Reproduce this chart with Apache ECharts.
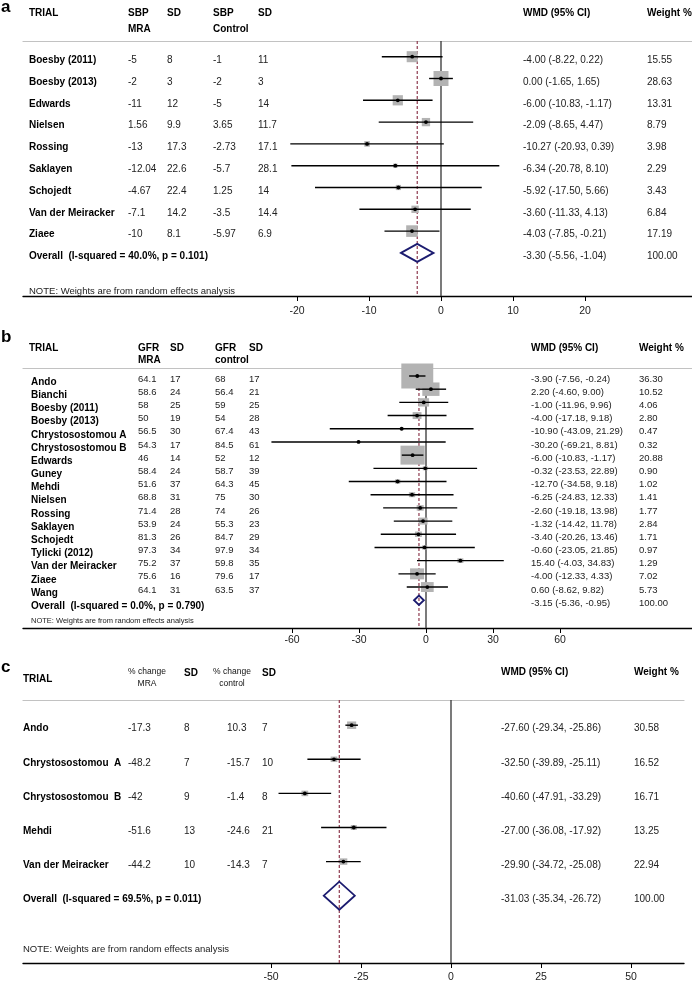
<!DOCTYPE html>
<html><head><meta charset="utf-8">
<script src="https://cdn.jsdelivr.net/npm/echarts@6/dist/echarts.min.js"></script>
<style>html,body{margin:0;padding:0;background:#fff}#chart{width:692px;height:983px}</style>
</head><body><div id="chart"></div>
<script>
// ---------------- Panel a : SBP ----------------
const trialsA = ['Boesby (2011)','Boesby (2013)','Edwards','Nielsen','Rossing','Saklayen','Schojedt','Van der Meiracker','Ziaee'];
const sbpMraA = ['-5','-2','-11','1.56','-13','-12.04','-4.67','-7.1','-10'];
const sdMraA = ['8','3','12','9.9','17.3','22.6','22.4','14.2','8.1'];
const sbpCtrlA = ['-1','-2','-5','3.65','-2.73','-5.7','1.25','-3.5','-5.97'];
const sdCtrlA = ['11','3','14','11.7','17.1','28.1','14','14.4','6.9'];
const wmdA = [-4.00,0.00,-6.00,-2.09,-10.27,-6.34,-5.92,-3.60,-4.03];
const loA = [-8.22,-1.65,-10.83,-8.65,-20.93,-20.78,-17.50,-11.33,-7.85];
const hiA = [0.22,1.65,-1.17,4.47,0.39,8.10,5.66,4.13,-0.21];
const weightA = [15.55,28.63,13.31,8.79,3.98,2.29,3.43,6.84,17.19];
const overallA = [-3.30,-5.56,-1.04];
const hetA = 'Overall  (I-squared = 40.0%, p = 0.101)';
const ticksA = [-20,-10,0,10,20];
const headA = ['SBP\nMRA','SD','SBP\nControl','SD'];

// ---------------- Panel b : GFR ----------------
const trialsB = ['Ando','Bianchi','Boesby (2011)','Boesby (2013)','Chrystosostomou A','Chrystosostomou B','Edwards','Guney','Mehdi','Nielsen','Rossing','Saklayen','Schojedt','Tylicki (2012)','Van der Meiracker','Ziaee','Wang'];
const gfrMraB = ['64.1','58.6','58','50','56.5','54.3','46','58.4','51.6','68.8','71.4','53.9','81.3','97.3','75.2','75.6','64.1'];
const sdMraB = ['17','24','25','19','30','17','14','24','37','31','28','24','26','34','37','16','31'];
const gfrCtrlB = ['68','56.4','59','54','67.4','84.5','52','58.7','64.3','75','74','55.3','84.7','97.9','59.8','79.6','63.5'];
const sdCtrlB = ['17','21','25','28','43','61','12','39','45','30','26','23','29','34','35','17','37'];
const wmdB = [-3.90,2.20,-1.00,-4.00,-10.90,-30.20,-6.00,-0.32,-12.70,-6.25,-2.60,-1.32,-3.40,-0.60,15.40,-4.00,0.60];
const loB = [-7.56,-4.60,-11.96,-17.18,-43.09,-69.21,-10.83,-23.53,-34.58,-24.83,-19.18,-14.42,-20.26,-23.05,-4.03,-12.33,-8.62];
const hiB = [-0.24,9.00,9.96,9.18,21.29,8.81,-1.17,22.89,9.18,12.33,13.98,11.78,13.46,21.85,34.83,4.33,9.82];
const weightB = [36.30,10.52,4.06,2.80,0.47,0.32,20.88,0.90,1.02,1.41,1.77,2.84,1.71,0.97,1.29,7.02,5.73];
const overallB = [-3.15,-5.36,-0.95];
const hetB = 'Overall  (I-squared = 0.0%, p = 0.790)';
const ticksB = [-60,-30,0,30,60];
const headB = ['GFR\nMRA','SD','GFR\ncontrol','SD'];

// ---------------- Panel c : % change ----------------
const trialsC = ['Ando','Chrystosostomou  A','Chrystosostomou  B','Mehdi','Van der Meiracker'];
const pctMraC = ['-17.3','-48.2','-42','-51.6','-44.2'];
const sdMraC = ['8','7','9','13','10'];
const pctCtrlC = ['10.3','-15.7','-1.4','-24.6','-14.3'];
const sdCtrlC = ['7','10','8','21','7'];
const wmdC = [-27.60,-32.50,-40.60,-27.00,-29.90];
const loC = [-29.34,-39.89,-47.91,-36.08,-34.72];
const hiC = [-25.86,-25.11,-33.29,-17.92,-25.08];
const weightC = [30.58,16.52,16.71,13.25,22.94];
const overallC = [-31.03,-35.34,-26.72];
const hetC = 'Overall  (I-squared = 69.5%, p = 0.011)';
const ticksC = [-50,-25,0,25,50];
const headC = ['% change\nMRA','SD','% change\ncontrol','SD'];

const noteText = 'NOTE: Weights are from random effects analysis';

// ---------------- layout (pixels) ----------------
const FONT = '"Liberation Sans", Arial, Helvetica, sans-serif';
const PANELS = [
  {letter:'a', trials:trialsA, cols:[sbpMraA,sdMraA,sbpCtrlA,sdCtrlA], wmd:wmdA, lo:loA, hi:hiA, wt:weightA, overall:overallA, het:hetA, ticks:ticksA, head:headA,
   L:{left:23, top:41, width:669, height:255, zero:441, ppu:7.2, row0:56.7, step:21.8, sqW:2.8, sqH:2.8, dh:9,
      nameX:29, colX:[128,167,213,258], wmdX:523, wtX:647, nameDy:3.5, numDy:3.5, nameFs:10, numFs:10, margin:10,
      letterY:7, headY:13, head2Y:29, hx:[128,167,213,258], headSmall:false, trialY:13, sdY:13, wHeadY:13, trialX:29, noteX:29, noteY:291, noteFs:9.5}},
  {letter:'b', trials:trialsB, cols:[gfrMraB,sdMraB,gfrCtrlB,sdCtrlB], wmd:wmdB, lo:loB, hi:hiB, wt:weightB, overall:overallB, het:hetB, ticks:ticksB, head:headB,
   L:{left:23, top:368, width:669, height:260, zero:426, ppu:67/30, row0:376, step:13.19, sqW:5.3, sqH:4.15, dh:4.7,
      nameX:31, colX:[138,170,215,249], wmdX:531, wtX:639, nameDy:6, numDy:3, nameFs:10, numFs:9.5, margin:7,
      letterY:337, headY:348, head2Y:360, hx:[138,170,215,249], headSmall:false, trialY:348, sdY:348, wHeadY:348, trialX:29, noteX:31, noteY:621, noteFs:7.5}},
  {letter:'c', trials:trialsC, cols:[pctMraC,sdMraC,pctCtrlC,sdCtrlC], wmd:wmdC, lo:loC, hi:hiC, wt:weightC, overall:overallC, het:hetC, ticks:ticksC, head:headC,
   L:{left:23, top:700, width:661, height:263, zero:451, ppu:3.6, row0:725.2, step:34.1, sqW:1.65, sqH:1.35, dh:14,
      nameX:23, colX:[128,184,227,262], wmdX:501, wtX:634, nameDy:3.5, numDy:3.5, nameFs:10, numFs:10, margin:9,
      letterY:667, headY:672, head2Y:684, hx:[128,184,213,262], headSmall:true, trialY:679, sdY:673, wHeadY:672, trialX:23, noteX:23, noteY:949, noteFs:9.5}}
];

const f2 = v => v.toFixed(2);
const ciText = (e,l,h) => f2(e) + ' (' + f2(l) + ', ' + f2(h) + ')';

const grids = [], xAxes = [], yAxes = [], series = [], graphics = [];

function txt(x, y, text, size, bold, color, align) {
  return {type:'text', x:x, y:y, silent:true, style:{text:text, fill:color||'#000', font:(bold?'bold ':'') + size + 'px ' + FONT, align:align||'left', verticalAlign:'middle'}};
}

PANELS.forEach((P, pi) => {
  const L = P.L;
  const n = P.trials.length;
  grids.push({left:L.left, top:L.top, width:L.width, height:L.height});
  const xmin = (L.left - L.zero) / L.ppu, xmax = (L.left + L.width - L.zero) / L.ppu;
  const ymin = (L.top - L.row0) / L.step, ymax = (L.top + L.height - L.row0) / L.step;
  xAxes.push({type:'value', gridIndex:pi, position:'bottom', min:xmin, max:xmax,
    axisLine:{show:true, onZero:false, lineStyle:{color:'#000', width:1.4}},
    axisTick:{show:true, length:5, customValues:P.ticks, lineStyle:{color:'#000', width:1}},
    axisLabel:{show:true, customValues:P.ticks, margin:L.margin, fontSize:10.5, color:'#222', fontFamily:FONT},
    splitLine:{show:false}});
  xAxes.push({type:'value', gridIndex:pi, position:'top', min:xmin, max:xmax,
    axisLine:{show:true, onZero:false, lineStyle:{color:'#c2c2c2', width:1.2}},
    axisTick:{show:false}, axisLabel:{show:false}, splitLine:{show:false}});
  yAxes.push({type:'value', gridIndex:pi, min:ymin, max:ymax, inverse:true, show:false});
  const xi = pi * 2, yi = pi;

  // reference lines: zero and overall estimate
  series.push({type:'custom', coordinateSystem:'cartesian2d', xAxisIndex:xi, yAxisIndex:yi, z:2, silent:true,
    data:[[0, P.overall[0]]],
    renderItem:(params, api) => {
      const cs = params.coordSys;
      const x0 = api.coord([api.value(0), 0])[0];
      const xd = api.coord([api.value(1), 0])[0];
      return {type:'group', children:[
        {type:'line', shape:{x1:x0, y1:cs.y, x2:x0, y2:cs.y + cs.height}, style:{stroke:'#333', lineWidth:1.3}},
        {type:'line', shape:{x1:xd, y1:cs.y, x2:xd, y2:cs.y + cs.height}, style:{stroke:'#8e3a4f', lineWidth:1.2, lineDash:[3,2]}}
      ]};
    }});

  // forest marks
  const fdata = P.trials.map((t, k) => [k, P.wmd[k], P.lo[k], P.hi[k], P.wt[k], 0])
    .concat([[n, P.overall[0], P.overall[1], P.overall[2], 100, 1]]);
  series.push({type:'custom', coordinateSystem:'cartesian2d', xAxisIndex:xi, yAxisIndex:yi, z:3, silent:true,
    data:fdata,
    renderItem:(params, api) => {
      const k = api.value(0);
      const pc = api.coord([api.value(1), k]);
      const pl = api.coord([api.value(2), k]);
      const ph = api.coord([api.value(3), k]);
      if (api.value(5) === 1) {
        return {type:'polygon', shape:{points:[[pl[0], pc[1]], [pc[0], pc[1] - L.dh], [ph[0], pc[1]], [pc[0], pc[1] + L.dh]]},
          style:{fill:'none', stroke:'#1c1c70', lineWidth:1.8}};
      }
      const s = Math.sqrt(api.value(4));
      const w = L.sqW * s, h = L.sqH * s;
      return {type:'group', children:[
        {type:'rect', shape:{x:pc[0] - w/2, y:pc[1] - h/2, width:w, height:h}, style:{fill:'#b3b3b3'}},
        {type:'line', shape:{x1:pl[0], y1:pc[1], x2:ph[0], y2:pc[1]}, style:{stroke:'#000', lineWidth:1.4}},
        {type:'circle', shape:{cx:pc[0], cy:pc[1], r:1.9}, style:{fill:'#000'}}
      ]};
    }});

  // table text rows
  const tdata = P.trials.map((t, k) => [k, 0]).concat([[n, 1]]);
  series.push({type:'custom', coordinateSystem:'cartesian2d', xAxisIndex:xi, yAxisIndex:yi, z:4, silent:true, clip:false,
    data:tdata,
    renderItem:(params, api) => {
      const k = api.value(0);
      const y = api.coord([0, k])[1];
      const ch = [];
      if (k < n) {
        ch.push(txt(L.nameX, y + L.nameDy, P.trials[k], L.nameFs, true, '#000'));
        P.cols.forEach((col, c) => ch.push(txt(L.colX[c], y + L.numDy, col[k], L.numFs, false, '#222')));
        ch.push(txt(L.wmdX, y + L.numDy, ciText(P.wmd[k], P.lo[k], P.hi[k]), L.numFs, false, '#222'));
        ch.push(txt(L.wtX, y + L.numDy, f2(P.wt[k]), L.numFs, false, '#222'));
      } else {
        ch.push(txt(L.nameX, y + L.nameDy, P.het, L.nameFs, true, '#000'));
        ch.push(txt(L.wmdX, y + L.numDy, ciText(P.overall[0], P.overall[1], P.overall[2]), L.numFs, false, '#222'));
        ch.push(txt(L.wtX, y + L.numDy, f2(100), L.numFs, false, '#222'));
      }
      return {type:'group', children:ch};
    }});

  // headers, panel letter and note
  graphics.push(txt(1, L.letterY, P.letter, 17, true, '#000'));
  graphics.push(txt(L.trialX, L.trialY, 'TRIAL', 10, true, '#000'));
  P.head.forEach((hd, c) => {
    const parts = hd.split('\n');
    if (L.headSmall && parts.length > 1) {
      graphics.push(txt(L.hx[c] + 19, L.headY, parts[0], 8.5, false, '#111', 'center'));
      graphics.push(txt(L.hx[c] + 19, L.head2Y, parts[1], 8.5, false, '#111', 'center'));
    } else if (parts.length > 1) {
      graphics.push(txt(L.hx[c], L.headY, parts[0], 10, true, '#000'));
      graphics.push(txt(L.hx[c], L.head2Y, parts[1], 10, true, '#000'));
    } else {
      graphics.push(txt(L.hx[c], L.sdY, parts[0], 10, true, '#000'));
    }
  });
  graphics.push(txt(L.wmdX, L.wHeadY, 'WMD (95% CI)', 10, true, '#000'));
  graphics.push(txt(L.wtX, L.wHeadY, 'Weight %', 10, true, '#000'));
  graphics.push(txt(L.noteX, L.noteY, noteText, L.noteFs, false, '#222'));
});

const chart = echarts.init(document.getElementById('chart'), null, {renderer:'canvas'});
chart.setOption({
  animation:false,
  backgroundColor:'#fff',
  textStyle:{fontFamily:FONT},
  grid:grids, xAxis:xAxes, yAxis:yAxes, series:series,
  graphic:{elements:graphics}
});
</script>
</body></html>
